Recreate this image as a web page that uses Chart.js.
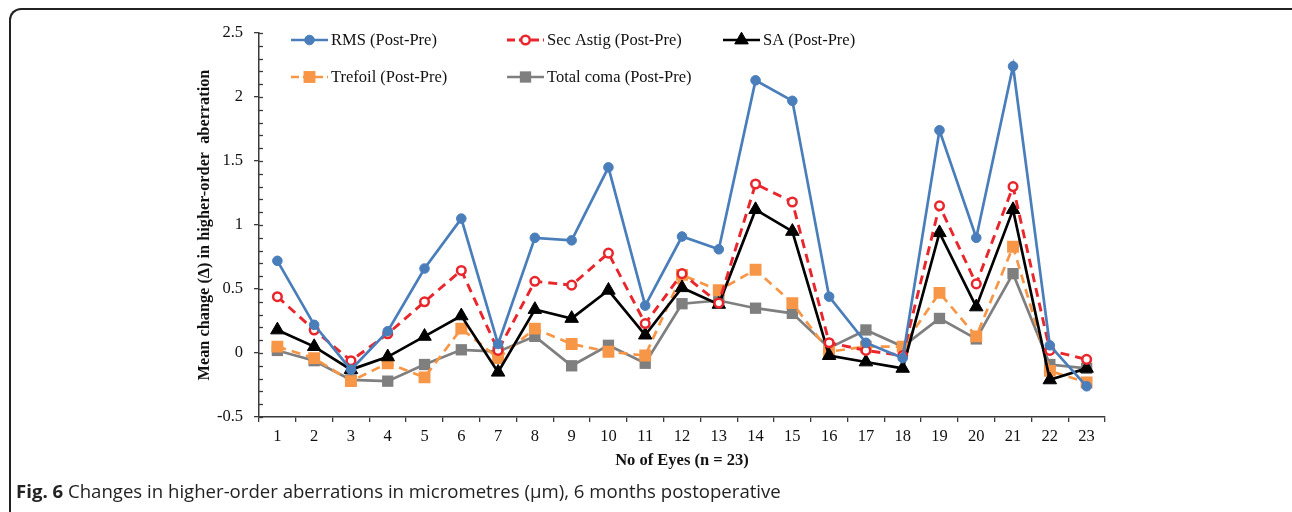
<!DOCTYPE html>
<html>
<head>
<meta charset="utf-8">
<script src="https://cdn.jsdelivr.net/npm/chart.js@4"></script>
<style>
  html, body { margin:0; padding:0; background:#fff; }
  body { width:1292px; height:512px; position:relative; overflow:hidden; }
  #frame { position:absolute; left:9px; top:8px; width:1300px; height:540px;
           border-top:2px solid #222; border-left:2px solid #222; border-top-left-radius:12px; box-sizing:border-box; }
  #wrap { position:absolute; left:0; top:0; width:1292px; height:512px; }
  #caption { position:absolute; left:16px; top:478px; font-family:"Open Sans", sans-serif; font-size:18.6px; color:#222; white-space:nowrap; }
  #caption b { font-weight:700; }
</style>
</head>
<body>
<div id="frame"></div>
<div id="wrap"><canvas id="c" width="1292" height="512"></canvas></div>
<div id="caption"><b>Fig. 6</b> Changes in higher-order aberrations in micrometres (μm), 6 months postoperative</div>
<script>
const categories = ['1','2','3','4','5','6','7','8','9','10','11','12','13','14','15','16','17','18','19','20','21','22','23'];
const rms       = [0.72, 0.22, -0.13, 0.17, 0.66, 1.05, 0.07, 0.90, 0.88, 1.45, 0.37, 0.91, 0.81, 2.13, 1.97, 0.44, 0.08, -0.04, 1.74, 0.90, 2.24, 0.06, -0.26];
const secAstig  = [0.44, 0.18, -0.06, 0.15, 0.40, 0.645, 0.02, 0.56, 0.53, 0.78, 0.23, 0.62, 0.39, 1.32, 1.18, 0.08, 0.02, -0.02, 1.15, 0.54, 1.30, 0.02, -0.05];
const sa        = [0.18, 0.05, -0.13, -0.03, 0.13, 0.29, -0.15, 0.34, 0.27, 0.49, 0.14, 0.51, 0.38, 1.12, 0.95, -0.02, -0.07, -0.12, 0.94, 0.36, 1.12, -0.21, -0.12];
const trefoil   = [0.05, -0.04, -0.22, -0.08, -0.19, 0.19, -0.04, 0.19, 0.07, 0.01, -0.02, 0.61, 0.49, 0.65, 0.39, 0.01, 0.05, 0.05, 0.47, 0.13, 0.83, -0.14, -0.23];
const totalComa = [0.02, -0.06, -0.21, -0.22, -0.09, 0.025, 0.01, 0.13, -0.10, 0.06, -0.08, 0.385, 0.41, 0.35, 0.31, 0.04, 0.18, 0.05, 0.27, 0.11, 0.62, -0.09, -0.12];
const seriesNames = ['RMS (Post-Pre)', 'Sec Astig (Post-Pre)', 'SA (Post-Pre)', 'Trefoil (Post-Pre)', 'Total coma (Post-Pre)'];
const yTickValues = [-0.5, 0, 0.5, 1, 1.5, 2, 2.5];
const yTickLabels = ['-0.5', '0', '0.5', '1', '1.5', '2', '2.5'];
const xTitle = 'No of Eyes (n = 23)';
const yTitle = 'Mean change (\u0394) in higher-order  aberration';

const SERIF = '"Liberation Serif", "Times New Roman", serif';
const AXIS = '#3a3a3a';

const datasets = [
  { label: seriesNames[0], data: rms, borderColor:'#4a7ebb', backgroundColor:'#4a7ebb', borderWidth:2.7,
    pointStyle:'circle', pointRadius:4.8, pointBorderWidth:1, pointBackgroundColor:'#4a7ebb', pointBorderColor:'#4a7ebb' },
  { label: seriesNames[1], data: secAstig, borderColor:'#e8262b', backgroundColor:'#ffffff', borderWidth:2.9, borderDash:[9,6],
    pointStyle:'circle', pointRadius:4.3, pointBorderWidth:2.5, pointBackgroundColor:'#ffffff', pointBorderColor:'#e8262b' },
  { label: seriesNames[2], data: sa, borderColor:'#000000', backgroundColor:'#000000', borderWidth:2.7,
    pointStyle:'triangle', pointRadius:7.8, pointBorderWidth:1, pointBackgroundColor:'#000000', pointBorderColor:'#000000' },
  { label: seriesNames[3], data: trefoil, borderColor:'#f79646', backgroundColor:'#f79646', borderWidth:2.7, borderDash:[9,6],
    pointStyle:'rect', pointRadius:8.4, pointBorderWidth:0, pointBackgroundColor:'#f79646', pointBorderColor:'#f79646' },
  { label: seriesNames[4], data: totalComa, borderColor:'#7f7f7f', backgroundColor:'#7f7f7f', borderWidth:2.7,
    pointStyle:'rect', pointRadius:8.0, pointBorderWidth:0, pointBackgroundColor:'#7f7f7f', pointBorderColor:'#7f7f7f' }
];
datasets.forEach(d => { d.tension = 0; d.fill = false; d.pointHoverRadius = d.pointRadius; });

// legend layout: [lineStartX, centerY] per series
const legendPos = [[291, 40], [507, 40], [723, 40], [291, 77], [507, 77]];

function drawMarker(ctx, ds, x, y) {
  ctx.save();
  ctx.setLineDash([]);
  ctx.fillStyle = ds.pointBackgroundColor;
  ctx.strokeStyle = ds.pointBorderColor;
  ctx.lineWidth = ds.pointBorderWidth;
  const r = ds.pointRadius;
  ctx.beginPath();
  if (ds.pointStyle === 'circle') {
    ctx.arc(x, y, r, 0, Math.PI * 2);
  } else if (ds.pointStyle === 'triangle') {
    ctx.moveTo(x, y - r);
    ctx.lineTo(x + Math.sin(Math.PI*2/3) * r, y + r/2);
    ctx.lineTo(x - Math.sin(Math.PI*2/3) * r, y + r/2);
    ctx.closePath();
  } else {
    const h = r * Math.SQRT1_2;
    ctx.rect(x - h, y - h, 2*h, 2*h);
  }
  ctx.fill();
  if (ds.pointBorderWidth > 0) ctx.stroke();
  ctx.restore();
}

const extrasPlugin = {
  id: 'extras',
  afterDraw(chart) {
    const ctx = chart.ctx;
    const y = chart.scales.y;
    const area = chart.chartArea;
    // minor ticks (inside)
    ctx.save();
    ctx.strokeStyle = AXIS;
    ctx.lineWidth = 1.3;
    for (let i = 0; i <= 30; i++) {
      const v = -0.5 + i * 0.1;
      const py = Math.round(y.getPixelForValue(v)) + 0.5;
      ctx.beginPath();
      ctx.moveTo(area.left, py);
      ctx.lineTo(area.left + 4, py);
      ctx.stroke();
    }
    ctx.restore();
    // legend
    chart.data.datasets.forEach((ds, i) => {
      const [lx, ly] = legendPos[i];
      ctx.save();
      ctx.strokeStyle = ds.borderColor;
      ctx.lineWidth = ds.borderWidth;
      ctx.setLineDash(ds.borderDash ? [8, 4] : []);
      ctx.beginPath();
      ctx.moveTo(lx, ly);
      ctx.lineTo(lx + 37, ly);
      ctx.stroke();
      ctx.restore();
      drawMarker(ctx, ds, lx + 18.5, ly);
      ctx.save();
      ctx.fillStyle = '#111';
      ctx.font = '16.5px ' + SERIF;
      ctx.textBaseline = 'middle';
      ctx.textAlign = 'left';
      ctx.fillText(ds.label, lx + 40, ly + 1);
      ctx.restore();
    });
  }
};

new Chart(document.getElementById('c'), {
  type: 'line',
  data: { labels: categories, datasets: datasets },
  plugins: [extrasPlugin],
  options: {
    responsive: false,
    animation: false,
    events: [],
    layout: { padding: { left: 190, right: 187, top: 33, bottom: 35 } },
    plugins: { legend: { display: false }, tooltip: { enabled: false }, title: { display: false } },
    scales: {
      x: {
        type: 'category',
        offset: true,
        afterFit: s => { s.height = 60; },
        grid: { display: true, drawOnChartArea: false, drawTicks: true, tickLength: 5, offset: true, color: AXIS, lineWidth: 1.3 },
        border: { display: true, color: AXIS, width: 1.5 },
        ticks: { color: '#111', font: { family: SERIF, size: 16.5 }, padding: 5, maxRotation: 0, autoSkip: false },
        title: { display: true, text: xTitle, color: '#111', font: { family: SERIF, size: 16.5, weight: 'bold' }, padding: { top: 0, bottom: 6 } }
      },
      y: {
        min: -0.5, max: 2.5,
        afterFit: s => { s.width = 69; },
        afterBuildTicks: s => { s.ticks = yTickValues.map(v => ({ value: v })); },
        grid: { display: true, drawOnChartArea: false, drawTicks: true, tickLength: 5, color: AXIS, lineWidth: 1.3 },
        border: { display: true, color: AXIS, width: 1.5 },
        ticks: { color: '#111', font: { family: SERIF, size: 16.5 }, padding: 11,
                 callback: (v, i) => yTickLabels[i] },
        title: { display: true, text: yTitle, color: '#111', font: { family: SERIF, size: 16.3, weight: 'bold' }, padding: { top: 5, bottom: 0 } }
      }
    }
  }
});
</script>
</body>
</html>
